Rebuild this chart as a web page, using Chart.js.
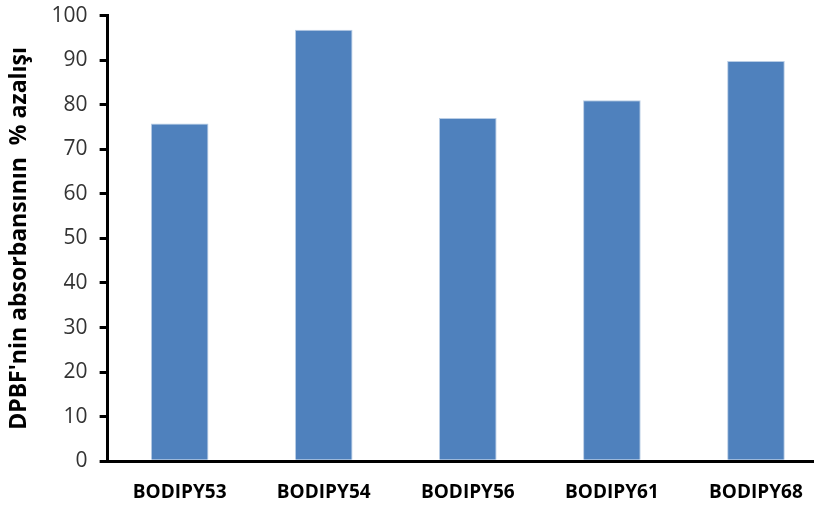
<!DOCTYPE html>
<html>
<head>
<meta charset="utf-8">
<script src="https://cdn.jsdelivr.net/npm/chart.js@4"></script>
<style>
  html, body { margin: 0; padding: 0; background: #fff; overflow: hidden; }
  #wrap { position: relative; top: -9px; width: 836px; height: 535px; }
</style>
</head>
<body>
<div id="wrap"><canvas id="chart"></canvas></div>
<script>
const categories = ['BODIPY53', 'BODIPY54', 'BODIPY56', 'BODIPY61', 'BODIPY68'];
const values = [75.8, 96.8, 77.0, 81.0, 89.8];
const yTitle = "DPBF'nin absorbansının  % azalışı";

const ctx = document.getElementById('chart').getContext('2d');
new Chart(ctx, {
  type: 'bar',
  data: {
    labels: categories,
    datasets: [{
      data: values,
      backgroundColor: '#4F81BD',
      borderColor: '#B9CDE5',
      borderWidth: 1,
      barPercentage: 0.4,
      categoryPercentage: 1
    }]
  },
  options: {
    responsive: true,
    maintainAspectRatio: false,
    animation: false,
    layout: { padding: { left: 6, top: 0, right: 8, bottom: 2 } },
    plugins: {
      legend: { display: false },
      tooltip: { enabled: false }
    },
    scales: {
      x: {
        grid: { display: false, drawTicks: false },
        border: { color: '#000', width: 3 },
        ticks: {
          color: '#000',
          padding: 20,
          font: { family: 'Open Sans', size: 19, weight: 'bold' }
        }
      },
      y: {
        min: 0,
        max: 100,
        ticks: {
          stepSize: 10,
          color: '#333',
          padding: 12,
          font: { family: 'Open Sans', size: 21 }
        },
        grid: { drawOnChartArea: false, drawTicks: true, tickLength: 8, color: '#000', lineWidth: 3 },
        border: { color: '#000', width: 3 },
        title: {
          display: true,
          text: yTitle,
          color: '#000',
          padding: { top: 0, bottom: 6 },
          font: { family: 'Open Sans', size: 23, weight: 'bold' }
        }
      }
    }
  }
});
</script>
</body>
</html>
